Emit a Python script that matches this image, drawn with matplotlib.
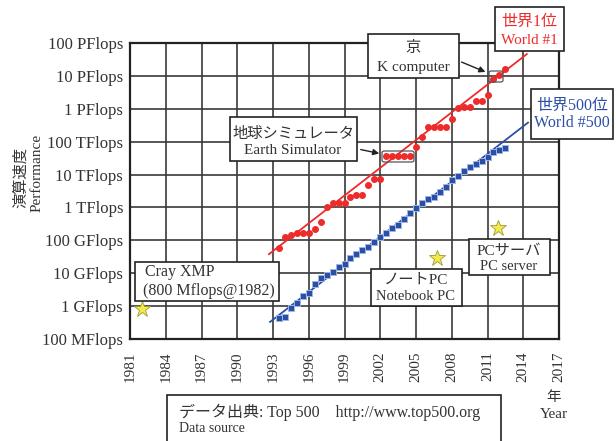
import numpy as np
import matplotlib
matplotlib.use("Agg")
import matplotlib.pyplot as plt
from matplotlib.patches import Rectangle, FancyBboxPatch, FancyArrowPatch

plt.rcParams['font.family'] = ['Liberation Serif', 'Noto Sans CJK JP', 'DejaVu Sans']

## Data (Top500, half-yearly lists)
years = np.arange(1993.5, 2012.51, 0.5)

# World #1 (TFlops)
top1_tf = [0.0597, 0.124, 0.143, 0.170, 0.170, 0.170, 0.220, 0.368, 1.068, 1.338,
           1.338, 1.338, 2.121, 2.379, 2.379, 4.938, 7.226, 7.226, 35.86, 35.86,
           35.86, 35.86, 35.86, 70.72, 136.8, 280.6, 280.6, 280.6, 280.6, 478.2,
           1026, 1105, 1105, 1759, 1759, 2566, 8162, 10510, 16324]

# World #500 (GFlops)
top500_gf = [0.45, 0.47, 0.90, 1.25, 2.1, 2.5, 4.8, 7.0, 8.7, 10.7,
             15.0, 18.7, 28.4, 37.6, 50.0, 62.0, 87.0, 124, 164, 230,
             283, 436, 660, 940, 1320, 1870, 2150, 3000, 4300, 6600,
             9300, 13200, 17500, 21500, 26500, 35000, 47000, 54000, 66000]

# trend lines (end points)
trend1_x = [1992.66, 2014.3]
trend1_y = [3.8e10, 4.6e16]
trend500_x = [1992.75, 2014.4]
trend500_y = [3.3e8, 3.8e14]

# single machines
star_x = [1982.0, 2006.8, 2011.9]
star_y = [8e8, 2.85e10, 2.3e11]

ytick_vals = [1e8, 1e9, 1e10, 1e11, 1e12, 1e13, 1e14, 1e15, 1e16, 1e17]
ytick_labels = ["100 MFlops", "1 GFlops", "10 GFlops", "100 GFlops", "1 TFlops",
                "10 TFlops", "100 TFlops", "1 PFlops", "10 PFlops", "100 PFlops"]
xtick_vals = list(range(1981, 2018, 3))

RED = "#ee2b2b"
BLUE = "#2b4fa6"
INK = "#333333"

W, H = 616, 441
def fx(x):
  return x / W
def fy(y):
  return 1 - y / H

fig = plt.figure(figsize=(6.16, 4.41), dpi=100)
ax = fig.add_axes([fx(130), fy(339), fx(559) - fx(130), fy(43) - fy(339)])

ax.set_yscale("log")
ax.set_xlim(1981, 2017)
ax.set_ylim(1e8, 1e17)
ax.set_xticks(xtick_vals)
ax.set_xticklabels([str(v) for v in xtick_vals], rotation=90, fontsize=11, color=INK)
ax.set_yticks(ytick_vals)
ax.set_yticklabels(ytick_labels, fontsize=12, color=INK)
ax.minorticks_off()
ax.tick_params(length=0, pad=5)
ax.tick_params(axis="x", pad=9)
ax.grid(True, color="#3a3a3a", lw=1.2)
ax.set_axisbelow(True)
for s in ax.spines.values():
  s.set_linewidth(1.6)
  s.set_color("#222222")

ax.plot(trend1_x, trend1_y, color=RED, lw=1.3, zorder=3)
ax.plot(trend500_x, trend500_y, color=BLUE, lw=1.3, zorder=3)
ax.plot(years, np.array(top1_tf) * 1e12, "o", color=RED, ms=4, mec=RED, zorder=4)
ax.plot(years, np.array(top500_gf) * 1e9, "s", color=BLUE, ms=4, mec="#9db6e3", mew=0.7, zorder=4)
ax.plot(star_x, star_y, "*", color="#f3e94a", mec="#9c9a3a", mew=0.6, ms=12, zorder=4, clip_on=False)

## annotation boxes
def box(x0, y0, x1, y1, rounded=False, lw=1.2, ec="#222222"):
  if rounded:
    p = FancyBboxPatch((fx(x0), fy(y1)), fx(x1) - fx(x0), fy(y0) - fy(y1),
                       boxstyle="round,pad=0,rounding_size=0.004",
                       transform=fig.transFigure, fc="none", ec=ec, lw=lw, zorder=5)
  else:
    p = Rectangle((fx(x0), fy(y1)), fx(x1) - fx(x0), fy(y0) - fy(y1),
                  transform=fig.transFigure, fc="white", ec=ec, lw=lw, zorder=5)
  fig.add_artist(p)

def txt(x, y, s, size=11, color=INK, ha="center", rot=0):
  fig.text(fx(x), fy(y), s, fontsize=size, color=color, ha=ha, va="center",
           rotation=rot, zorder=6)

def arrow(x0, y0, x1, y1):
  fig.add_artist(FancyArrowPatch((fx(x0), fy(y0)), (fx(x1), fy(y1)),
                                 transform=fig.transFigure, arrowstyle="-|>",
                                 mutation_scale=9, color="#222222", lw=1.0, zorder=6))

# K computer
box(368, 34, 459, 78)
txt(413, 48, "京", 11)
txt(413, 67, "K computer", 11)
arrow(459, 61, 488, 73)
box(489, 71, 503, 82, rounded=True, lw=0.9, ec="#555555")

# World #1
box(495, 7, 564, 51)
txt(529, 22, "世界1位", 11.5, RED)
txt(529, 40, "World #1", 11, RED)

# World #500
box(531, 89, 613, 139)
txt(572, 106, "世界500位", 11.5, BLUE)
txt(572, 123, "World #500", 11.5, BLUE)

# Earth Simulator
box(230, 117, 357, 161)
txt(293, 134, "地球シミュレータ", 11)
txt(293, 151, "Earth Simulator", 11)
arrow(358, 149, 382, 154)
box(382, 151, 414, 162, rounded=True, lw=0.9, ec="#555555")

# Cray XMP
box(135, 262, 279, 301)
txt(145, 272, "Cray XMP", 11.5, ha="left")
txt(143, 291, "(800 Mflops@1982)", 11.5, ha="left")

# Notebook PC
box(371, 269, 462, 306)
txt(416, 280, "ノートPC", 11)
txt(416, 297, "Notebook PC", 10.5)

# PC server
box(469, 239, 550, 275)
txt(509, 251, "PCサーバ", 11)
txt(509, 267, "PC server", 10.5)

# data source
box(167, 395, 501, 460)
txt(179, 412, "データ出典: Top 500    http://www.top500.org", 11.5, ha="left")
txt(179, 429, "Data source", 10, ha="left")

# axis titles
txt(554, 397, "年", 10.5)
txt(554, 415, "Year", 11)
txt(21, 178, "演算速度", 11, rot=90)
txt(37, 173, "Performance", 11, rot=90)

fig.savefig("out.png", dpi=100)
